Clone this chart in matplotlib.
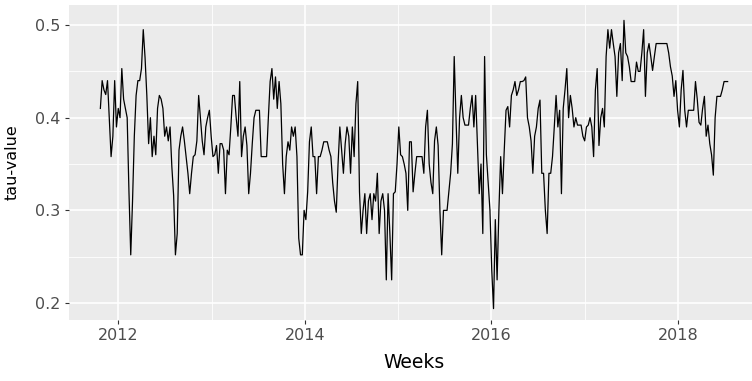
import matplotlib
matplotlib.use("Agg")
import matplotlib.pyplot as plt
import pandas as pd

# weekly tau values, in consecutive chunks
tau_2011_12 = [0.41,0.44,0.43,0.425,0.44,0.40,0.358,0.38,0.44,0.39,0.41,0.40,0.453,0.42,0.41,0.40,
               0.32,0.252,0.31,0.38,0.424,0.44,0.44,0.453,0.495,0.465,0.424,0.372,0.40,0.358,0.38]
tau_2012_13 = [0.36,0.41,0.424,0.42,0.41,0.38,0.39,0.375,0.39,0.347,0.316,0.252,0.275,0.365,0.38,0.39,
               0.375,0.358,0.34,0.318,0.34,0.358,0.36,0.375,0.424,0.40,0.375,0.36,0.39,0.40,0.408,0.38,0.358,0.36]
tau_2013_14 = [0.37,0.34,0.372,0.372,0.365,0.318,0.365,0.36,0.39,0.424,0.424,0.40,0.38,0.439,0.358,0.38,
               0.39,0.37,0.318,0.34,0.372,0.40,0.408,0.408,0.408,0.358,0.358,0.358,0.358,0.40,0.439,0.453,0.42]
tau_2014_a = [0.444,0.41,0.439,0.415,0.35,0.318,0.358,0.374,0.365,0.39,0.38,0.39,0.358,0.27,0.252,0.252,
              0.30,0.29,0.32,0.374,0.39,0.358,0.358,0.318,0.358,0.358,0.365,0.374,0.374,0.374,0.365,0.358,0.33,0.31]
tau_2014_15 = [0.298,0.35,0.39,0.365,0.34,0.372,0.39,0.38,0.34,0.39,0.358,0.415,0.439,0.32,0.275,0.30,
               0.318,0.275,0.31,0.318,0.29,0.318,0.31,0.34,0.275,0.31,0.318,0.30,0.225,0.318,0.275,0.225,0.318]
tau_2015_16 = [0.32,0.35,0.39,0.36,0.358,0.35,0.34,0.30,0.374,0.374,0.32,0.34,0.358,0.358,0.358,0.358,
               0.34,0.39,0.408,0.35,0.33,0.318,0.375,0.39,0.37,0.30,0.252,0.30,0.30,0.30,0.32,0.34,0.372,0.466]
tau_2016_a = [0.40,0.34,0.40,0.424,0.40,0.392,0.392,0.392,0.41,0.424,0.39,0.424,0.37,0.318,0.35,0.275,
              0.466,0.36,0.33,0.30,0.236,0.194,0.29,0.225,0.30,0.358,0.318,0.365,0.408,0.412,0.39,0.424,0.43]
tau_2016_17 = [0.439,0.424,0.43,0.439,0.439,0.44,0.444,0.40,0.39,0.375,0.34,0.38,0.39,0.41,0.419,0.34,
               0.34,0.30,0.275,0.34,0.34,0.358,0.39,0.424,0.39,0.408,0.318,0.41,0.43,0.453,0.40,0.424,0.41,0.39]
tau_2017_a = [0.40,0.392,0.392,0.392,0.38,0.375,0.39,0.392,0.40,0.39,0.358,0.43,0.453,0.37,0.40,0.41,
              0.39,0.466,0.495,0.475,0.495,0.48,0.466,0.423,0.47,0.48,0.44,0.505,0.47,0.466,0.455,0.439,0.439]
tau_2017_18 = [0.439,0.46,0.45,0.45,0.47,0.495,0.423,0.47,0.48,0.466,0.451,0.466,0.48,0.48,0.48,0.48,
               0.48,0.48,0.48,0.47,0.455,0.445,0.423,0.44,0.408,0.39,0.43,0.451,0.408,0.39,0.408,0.408,0.408,0.408]
tau_2018 = [0.439,0.42,0.395,0.392,0.41,0.423,0.38,0.392,0.372,0.36,0.338,0.40,0.423,0.423,0.423,0.43,
            0.439,0.439,0.439]

start_date = "2011-10-22"
x_ticks = ["2012-01-01", "2014-01-01", "2016-01-01", "2018-01-01"]
x_tick_labels = ["2012", "2014", "2016", "2018"]
x_minor = ["2013-01-01", "2015-01-01", "2017-01-01"]
y_ticks = [0.2, 0.3, 0.4, 0.5]
y_tick_labels = ["0.2", "0.3", "0.4", "0.5"]
y_minor = [0.25, 0.35, 0.45]

values = (tau_2011_12 + tau_2012_13 + tau_2013_14 + tau_2014_a + tau_2014_15 + tau_2015_16
          + tau_2016_a + tau_2016_17 + tau_2017_a + tau_2017_18 + tau_2018)
weeks = pd.date_range(start_date, periods=len(values), freq="7D")

W, H = 752, 381
fig = plt.figure(figsize=(W / 100, H / 100), dpi=100)
fig.patch.set_facecolor("white")
left, right, top, bottom = 69, 759, 5, 320
ax = fig.add_axes([left / W, (H - bottom) / H, (right - left) / W, (bottom - top) / H])
ax.set_facecolor("#EBEBEB")
for s in ax.spines.values():
    s.set_visible(False)

ax.plot(weeks, values, color="black", lw=0.9, zorder=3)

ax.set_xticks(pd.to_datetime(x_ticks))
ax.set_xticklabels(x_tick_labels)
ax.set_xticks(pd.to_datetime(x_minor), minor=True)
ax.set_yticks(y_ticks)
ax.set_yticklabels(y_tick_labels)
ax.set_yticks(y_minor, minor=True)

span = weeks[-1] - weeks[0]
ax.set_xlim(weeks[0] - span * 0.05, weeks[-1] + span * 0.05)
ax.set_ylim(0.1817, 0.5216)

ax.grid(which="major", color="white", lw=1.2, zorder=1)
ax.grid(which="minor", color="white", lw=0.6, zorder=1)
ax.set_axisbelow(True)

ax.tick_params(which="major", length=3, width=0.8, color="#333333", labelcolor="#4D4D4D",
               labelsize=11.5, pad=3)
ax.tick_params(which="minor", length=0)

ax.set_xlabel("Weeks", fontsize=13.5, color="black", labelpad=7)
ax.set_ylabel("tau-value", fontsize=11.5, color="black", labelpad=11)

fig.savefig("out.png", dpi=100)
